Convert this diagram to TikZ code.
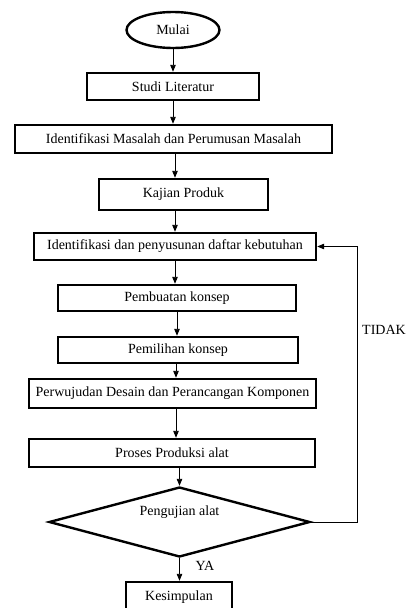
\documentclass[tikz,border=0pt]{standalone}
\usepackage{fontspec}
\setmainfont{Liberation Serif}
\usetikzlibrary{shapes.geometric,arrows.meta,calc}
\begin{document}
\begin{tikzpicture}[x=1pt,y=-1pt,
  box/.style={draw, line width=2.4pt, inner sep=0pt, font=\fontsize{14}{16}\selectfont},
  arr/.style={line width=0.9pt, -{Triangle[length=7pt,width=5.5pt]}},
  lbl/.style={font=\fontsize{14}{16}\selectfont, inner sep=0pt}]
\useasboundingbox (0,0) rectangle (407,608);
\clip (0,0) rectangle (407,608);
\node[box, ellipse, minimum width=93pt, minimum height=36pt] (mulai) at (173,30) {Mulai};
\node[box, minimum width=172pt, minimum height=27pt] (studi) at (173,86.5) {Studi Literatur};
\node[box, minimum width=317pt, minimum height=28pt] (ident1) at (173.5,139) {Identifikasi Masalah dan Perumusan Masalah};
\node[box, minimum width=169pt, minimum height=31pt] (kajian) at (183.5,194.5) {Kajian Produk};
\node[box, minimum width=282pt, minimum height=27pt] (ident2) at (175,246.5) {Identifikasi dan penyusunan daftar kebutuhan};
\node[box, minimum width=238pt, minimum height=26pt] (pembuatan) at (177,298) {Pembuatan konsep};
\node[box, minimum width=240pt, minimum height=26pt] (pemilihan) at (178,350) {Pemilihan konsep};
\node[box, minimum width=287pt, minimum height=29pt] (perwujudan) at (172.5,393.5) {Perwujudan Desain dan Perancangan Komponen};
\node[box, minimum width=286pt, minimum height=28pt] (proses) at (172,453) {Proses Produksi alat};
\node[draw, line width=2.4pt, diamond, aspect=3.73, minimum width=261pt, minimum height=70pt, inner sep=0pt] (dec) at (179.5,522) {};
\node[lbl] (dectext) at (179.5,512) {Pengujian alat};
\node[box, minimum width=106pt, minimum height=30pt] (kes) at (179,597) {Kesimpulan};
\node[lbl] (tidak) at (384,330) {TIDAK};
\node[lbl] (ya) at (205,566) {YA};

\draw[arr] (mulai.south) -- (studi.north);
\draw[arr] (studi.south) -- (studi.south |- ident1.north);
\draw[arr] ([xshift=1.5pt]ident1.south) -- ([xshift=1.5pt]ident1.south |- kajian.north);
\draw[arr] (kajian.south -| ident2.north) -- (ident2.north);
\draw[arr] (ident2.south) -- (ident2.south |- pembuatan.north);
\draw[arr] (pembuatan.south) -- (pembuatan.south |- pemilihan.north);
\draw[arr] ([xshift=-2pt]pemilihan.south) -- ([xshift=-2pt]pemilihan.south |- perwujudan.north);
\draw[arr] ([xshift=3.5pt]perwujudan.south) -- ([xshift=3.5pt]perwujudan.south |- proses.north);
\draw[arr] (proses.south -| dec.north) -- (dec.north);
\draw[arr] (dec.south) -- (dec.south |- kes.north);
\draw[arr] (dec.east) -- ++(46,0) |- (ident2.east);
\end{tikzpicture}
\end{document}
